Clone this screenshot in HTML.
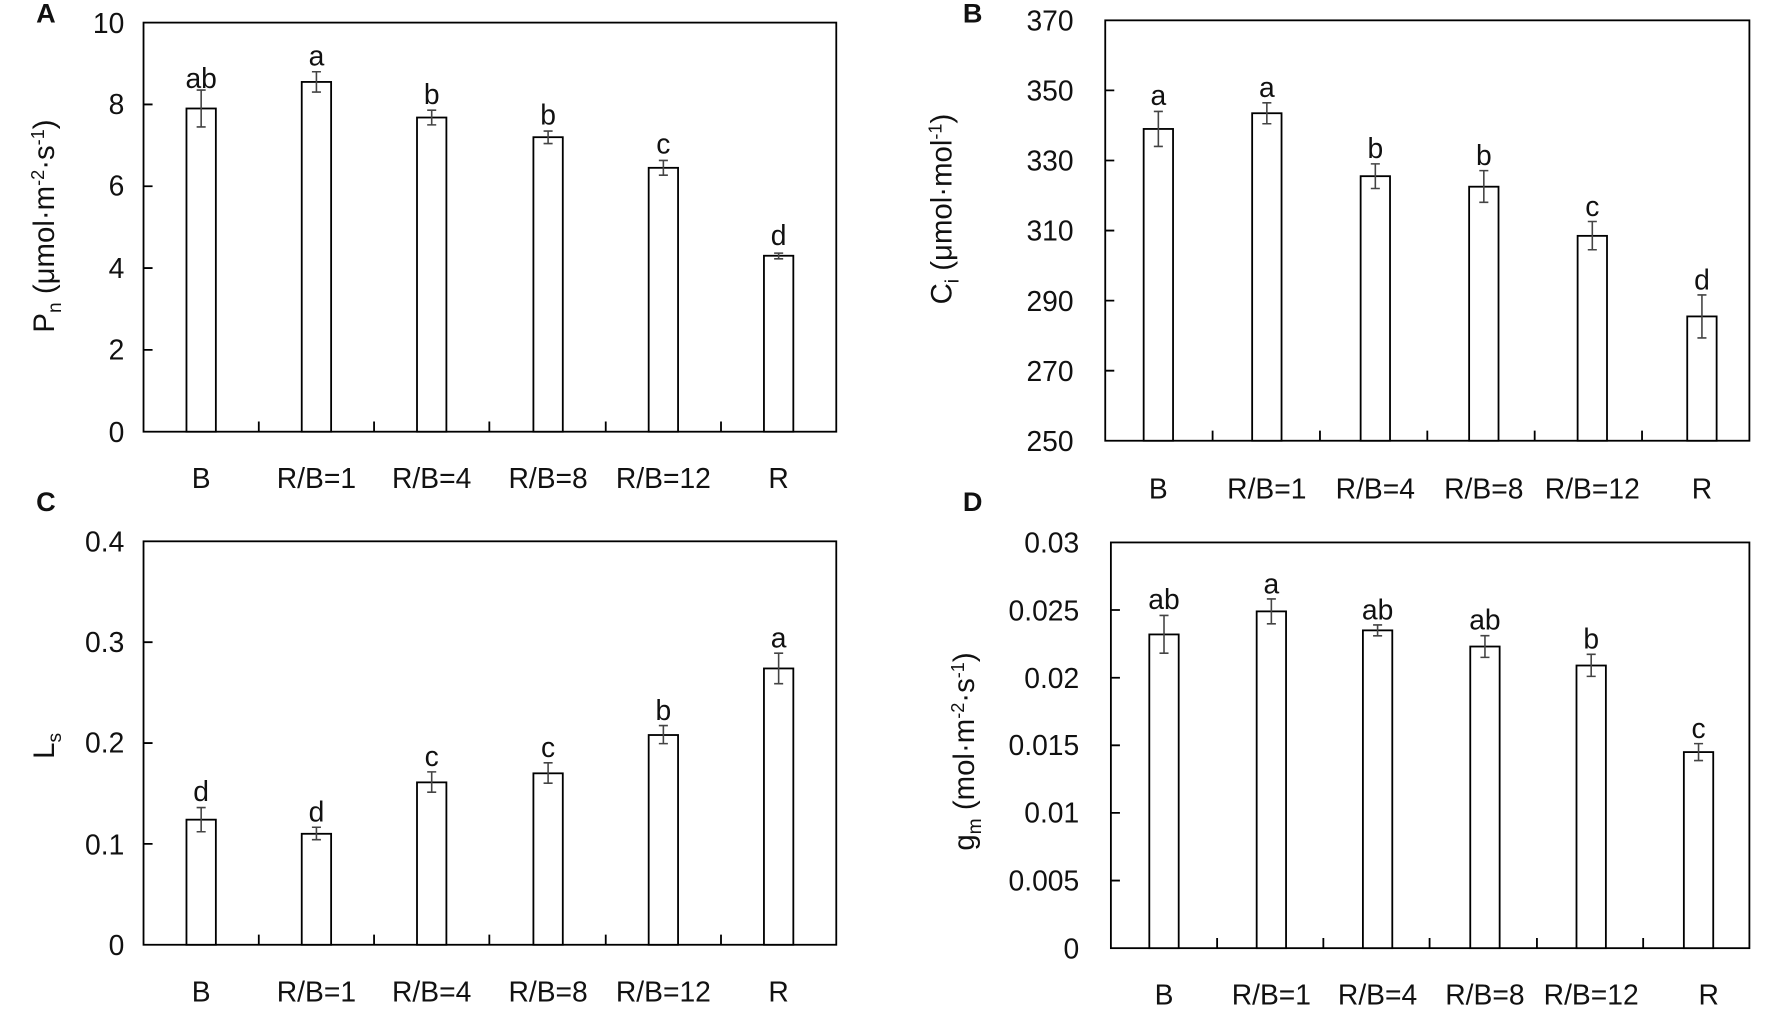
<!DOCTYPE html>
<html><head><meta charset="utf-8"><style>
html,body{margin:0;padding:0;background:#fff;}
svg{display:block;}
text{font-family:"Liberation Sans",sans-serif;fill:#111;}
.t{font-size:25px;}
.l{font-size:25px;text-anchor:middle;}
.y{font-size:26px;}
.p{font-size:24px;font-weight:bold;}
</style></head><body>
<svg width="1772" height="1025" viewBox="0 0 1568 907" preserveAspectRatio="none" xmlns="http://www.w3.org/2000/svg">
<g stroke="#000" stroke-width="1.6" fill="#fff">
<rect x="127" y="20" width="613" height="362" fill="none"/>
<path d="M127 92.4h8M127 164.8h8M127 237.2h8M127 309.6h8M229 382v-9M331 382v-9M433 382v-9M536 382v-9M638 382v-9"/>
<rect x="165" y="96" width="26" height="286"/>
<rect x="267" y="72.5" width="26" height="309.5"/>
<rect x="369" y="104" width="26" height="278"/>
<rect x="472" y="121.4" width="26" height="260.6"/>
<rect x="574" y="148.5" width="26" height="233.5"/>
<rect x="676" y="226.3" width="26" height="155.7"/>
<rect x="978" y="18" width="570" height="372" fill="none"/>
<path d="M978 80h8M978 142h8M978 204h8M978 266h8M978 328h8M1073 390v-9M1168 390v-9M1263 390v-9M1358 390v-9M1453 390v-9"/>
<rect x="1012" y="114.1" width="26" height="275.9"/>
<rect x="1108" y="100.2" width="26" height="289.8"/>
<rect x="1204" y="155.9" width="26" height="234.1"/>
<rect x="1300" y="165.2" width="26" height="224.8"/>
<rect x="1396" y="208.7" width="26" height="181.3"/>
<rect x="1493" y="280" width="26" height="110"/>
<rect x="127" y="479" width="613" height="357" fill="none"/>
<path d="M127 568.25h8M127 657.5h8M127 746.75h8M229 836v-9M331 836v-9M433 836v-9M536 836v-9M638 836v-9"/>
<rect x="165" y="725.3" width="26" height="110.7"/>
<rect x="267" y="737.8" width="26" height="98.2"/>
<rect x="369" y="692.3" width="26" height="143.7"/>
<rect x="472" y="684.3" width="26" height="151.7"/>
<rect x="574" y="650.4" width="26" height="185.6"/>
<rect x="676" y="591.5" width="26" height="244.5"/>
<rect x="983" y="480" width="565" height="359" fill="none"/>
<path d="M983 539.8h8M983 599.7h8M983 659.5h8M983 719.3h8M983 779.2h8M1077 839v-9M1171 839v-9M1265 839v-9M1360 839v-9M1454 839v-9"/>
<rect x="1017" y="561.4" width="26" height="277.6"/>
<rect x="1112" y="541" width="26" height="298"/>
<rect x="1206" y="557.8" width="26" height="281.2"/>
<rect x="1301" y="572.1" width="26" height="266.9"/>
<rect x="1395" y="588.9" width="26" height="250.1"/>
<rect x="1490" y="665.5" width="26" height="173.5"/>
</g>
<g stroke="#444" stroke-width="1.4" fill="none">
<path d="M178 79.7v32.6M174 79.7h8M174 112.3h8"/>
<path d="M280 63.5v18M276 63.5h8M276 81.5h8"/>
<path d="M382 97.5v13M378 97.5h8M378 110.5h8"/>
<path d="M485 116v11M481 116h8M481 127h8"/>
<path d="M587 142v13M583 142h8M583 155h8"/>
<path d="M689 224v5M685 224h8M685 229h8"/>
<path d="M1025 98.6v31M1021 98.6h8M1021 129.6h8"/>
<path d="M1121 91v18.5M1117 91h8M1117 109.5h8"/>
<path d="M1217 145v21.8M1213 145h8M1213 166.8h8"/>
<path d="M1313 151v28M1309 151h8M1309 179h8"/>
<path d="M1409 196v25M1405 196h8M1405 221h8"/>
<path d="M1506 261v38M1502 261h8M1502 299h8"/>
<path d="M178 714.6v21.4M174 714.6h8M174 736h8"/>
<path d="M280 732v11M276 732h8M276 743h8"/>
<path d="M382 683v18M378 683h8M378 701h8"/>
<path d="M485 675v18M481 675h8M481 693h8"/>
<path d="M587 642v16M583 642h8M583 658h8"/>
<path d="M689 578v27M685 578h8M685 605h8"/>
<path d="M1030 544.6v33.4M1026 544.6h8M1026 578h8"/>
<path d="M1125 530v22M1121 530h8M1121 552h8"/>
<path d="M1219 553v9.6M1215 553h8M1215 562.6h8"/>
<path d="M1314 562.5v19.2M1310 562.5h8M1310 581.7h8"/>
<path d="M1408 579v19.5M1404 579h8M1404 598.5h8"/>
<path d="M1503 658v15M1499 658h8M1499 673h8"/>
</g>
<g class="t" text-anchor="end">
<text x="110" y="29">10</text><text x="110" y="101">8</text><text x="110" y="173">6</text><text x="110" y="246">4</text><text x="110" y="318">2</text><text x="110" y="391">0</text>
<text x="950" y="27">370</text><text x="950" y="89">350</text><text x="950" y="151">330</text><text x="950" y="213">310</text><text x="950" y="275">290</text><text x="950" y="337">270</text><text x="950" y="399">250</text>
<text x="110" y="488">0.4</text><text x="110" y="577">0.3</text><text x="110" y="666">0.2</text><text x="110" y="756">0.1</text><text x="110" y="845">0</text>
<text x="955" y="489">0.03</text><text x="955" y="549">0.025</text><text x="955" y="609">0.02</text><text x="955" y="668">0.015</text><text x="955" y="728">0.01</text><text x="955" y="788">0.005</text><text x="955" y="848">0</text>
</g>
<g class="l">
<text x="178" y="432">B</text><text x="280" y="432">R/B=1</text><text x="382" y="432">R/B=4</text><text x="485" y="432">R/B=8</text><text x="587" y="432">R/B=12</text><text x="689" y="432">R</text>
<text x="1025" y="441">B</text><text x="1121" y="441">R/B=1</text><text x="1217" y="441">R/B=4</text><text x="1313" y="441">R/B=8</text><text x="1409" y="441">R/B=12</text><text x="1506" y="441">R</text>
<text x="178" y="886">B</text><text x="280" y="886">R/B=1</text><text x="382" y="886">R/B=4</text><text x="485" y="886">R/B=8</text><text x="587" y="886">R/B=12</text><text x="689" y="886">R</text>
<text x="1030" y="889">B</text><text x="1125" y="889">R/B=1</text><text x="1219" y="889">R/B=4</text><text x="1314" y="889">R/B=8</text><text x="1408" y="889">R/B=12</text><text x="1512" y="889">R</text>
</g>
<g class="l">
<text x="178" y="78">ab</text><text x="280" y="58">a</text><text x="382" y="92">b</text><text x="485" y="110">b</text><text x="587" y="136">c</text><text x="689" y="217">d</text>
<text x="1025" y="93">a</text><text x="1121" y="86">a</text><text x="1217" y="140">b</text><text x="1313" y="146">b</text><text x="1409" y="191">c</text><text x="1506" y="256">d</text>
<text x="178" y="709">d</text><text x="280" y="727">d</text><text x="382" y="678">c</text><text x="485" y="670">c</text><text x="587" y="637">b</text><text x="689" y="573">a</text>
<text x="1030" y="539">ab</text><text x="1125" y="525">a</text><text x="1219" y="548">ab</text><text x="1314" y="557">ab</text><text x="1408" y="574">b</text><text x="1503" y="653">c</text>
</g>
<text class="p" x="32" y="20">A</text>
<text class="p" x="852" y="20">B</text>
<text class="p" x="32" y="452">C</text>
<text class="p" x="852" y="452">D</text>
<text class="y" transform="translate(48,200) rotate(-90)" text-anchor="middle">P<tspan font-size="17" dy="6">n</tspan><tspan dy="-6"> (μmol·m</tspan><tspan font-size="16" dy="-9">-2</tspan><tspan dy="9">·s</tspan><tspan font-size="16" dy="-9">-1</tspan><tspan dy="9">)</tspan></text>
<text class="y" transform="translate(842,185) rotate(-90)" text-anchor="middle">C<tspan font-size="17" dy="6">i</tspan><tspan dy="-6"> (μmol·mol</tspan><tspan font-size="16" dy="-9">-1</tspan><tspan dy="9">)</tspan></text>
<text class="y" transform="translate(48,660) rotate(-90)" text-anchor="middle">L<tspan font-size="17" dy="6">s</tspan></text>
<text class="y" transform="translate(862,665) rotate(-90)" text-anchor="middle">g<tspan font-size="17" dy="6">m</tspan><tspan dy="-6"> (mol·m</tspan><tspan font-size="16" dy="-9">-2</tspan><tspan dy="9">·s</tspan><tspan font-size="16" dy="-9">-1</tspan><tspan dy="9">)</tspan></text>
</svg>
</body></html>
